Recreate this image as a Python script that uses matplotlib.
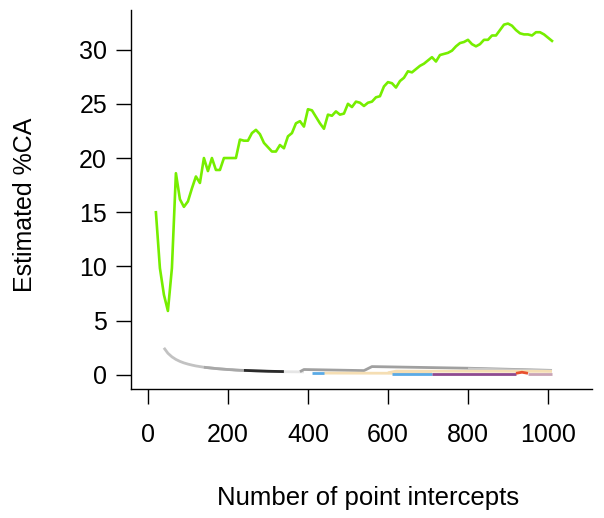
import matplotlib
matplotlib.use("Agg")
import matplotlib.pyplot as plt

# ---- data ----
n_points = list(range(20, 1020, 10))
green_ca = [15.0, 9.85, 7.4, 5.9, 9.85, 18.6, 16.2, 15.5, 16.0, 17.2,
            18.3, 17.7, 20.0, 18.8, 20.0, 18.9, 18.9, 20.0, 20.0, 20.0,
            20.0, 21.7, 21.6, 21.6, 22.3, 22.6, 22.2, 21.4, 21.0, 20.6,
            20.6, 21.2, 20.9, 22.0, 22.3, 23.2, 23.4, 22.9, 24.5, 24.4,
            23.8, 23.2, 22.7, 24.0, 23.9, 24.3, 24.0, 24.1, 25.0, 24.7,
            25.2, 25.1, 24.8, 25.1, 25.2, 25.6, 25.7, 26.6, 27.0, 26.9,
            26.5, 27.1, 27.4, 28.0, 27.9, 28.2, 28.5, 28.7, 29.0, 29.3,
            28.9, 29.5, 29.6, 29.7, 29.9, 30.3, 30.6, 30.7, 30.9, 30.5,
            30.3, 30.5, 30.9, 30.9, 31.3, 31.3, 31.8, 32.3, 32.4, 32.2,
            31.8, 31.5, 31.4, 31.4, 31.3, 31.6, 31.6, 31.4, 31.1, 30.8]

# minor species (x, y)
grayA_x = list(range(40, 350, 10))
grayA_y = [2.5, 2.0, 1.67, 1.43, 1.25, 1.11, 1.0, 0.91, 0.83, 0.77,
           0.71, 0.67, 0.63, 0.59, 0.56, 0.53, 0.5, 0.48, 0.45, 0.43,
           0.42, 0.40, 0.39, 0.37, 0.36, 0.35, 0.34, 0.33, 0.32, 0.31, 0.30]
grayB_x = list(range(140, 250, 10))
grayB_y = [0.71, 0.67, 0.63, 0.59, 0.56, 0.53, 0.5, 0.48, 0.45, 0.43, 0.42]
black_x = [240, 270, 300, 340]
black_y = [0.42, 0.38, 0.34, 0.31]
white_x = [340, 390]
white_y = [0.30, 0.28]
gray2_x = [380, 390, 540, 560, 800, 1010]
gray2_y = [0.30, 0.50, 0.40, 0.77, 0.62, 0.42]
gray3_x = [800, 1010]
gray3_y = [0.55, 0.38]
beige1_x = [440, 710]
beige1_y = [0.17, 0.15]
beige2_x = [600, 620, 1010]
beige2_y = [0.20, 0.35, 0.33]
blue1_x = [410, 440]
blue1_y = [0.22, 0.22]
blue2_x = [610, 710]
blue2_y = [0.12, 0.12]
purple_x = [710, 920]
purple_y = [0.10, 0.10]
red_x = [920, 935, 950]
red_y = [0.15, 0.25, 0.15]
pink_x = [950, 1010]
pink_y = [0.10, 0.10]

x_ticks = [0, 200, 400, 600, 800, 1000]
y_ticks = [0, 5, 10, 15, 20, 25, 30]

plt.rcParams['font.family'] = ['Liberation Sans', 'DejaVu Sans']
FS = 18

fig = plt.figure(figsize=(6.04, 5.18), dpi=100)
W, H = 604, 518
l, r, t, b = 130.7, 592, 10, 388.5
ax = fig.add_axes([l / W, 1 - b / H, (r - l) / W, (b - t) / H])

lw = 2.0
series = [
    (grayA_x, grayA_y, '#c2c2c2'),
    (grayB_x, grayB_y, '#a8a8a8'),
    (black_x, black_y, '#2a2a2a'),
    (white_x, white_y, '#e6e6e6'),
    (gray2_x, gray2_y, '#a0a0a0'),
    (gray3_x, gray3_y, '#c8c8c8'),
    (beige1_x, beige1_y, '#f5deb3'),
    (beige2_x, beige2_y, '#f5deb3'),
    (blue1_x, blue1_y, '#5aaae6'),
    (blue2_x, blue2_y, '#5aaae6'),
    (purple_x, purple_y, '#8e4a8f'),
    (red_x, red_y, '#e8502e'),
    (pink_x, pink_y, '#c9a3b5'),
]
for xs, ys, c in series:
    ax.plot(xs, ys, color=c, lw=lw, solid_capstyle='butt')

ax.plot(n_points, green_ca, color='#76ee00', lw=1.9)

ax.set_xlim(-43, 1110)
ax.set_ylim(-1.25, 33.65)
ax.set_xticks(x_ticks)
ax.set_yticks(y_ticks)
for s in ['top', 'right']:
    ax.spines[s].set_visible(False)
for s in ['left', 'bottom']:
    ax.spines[s].set_linewidth(1.0)
ax.tick_params(direction='out', length=11, width=1.0, labelsize=FS)
ax.tick_params(axis='x', pad=14)
ax.tick_params(axis='y', pad=6)

fig.text(368 / W, 1 - 498 / H, 'Number of point intercepts', fontsize=FS + 0.5,
         ha='center', va='center')
fig.text(25 / W, 1 - 205 / H, 'Estimated %CA', fontsize=FS, rotation=90,
         ha='center', va='center')

fig.savefig('out.png', dpi=100)
